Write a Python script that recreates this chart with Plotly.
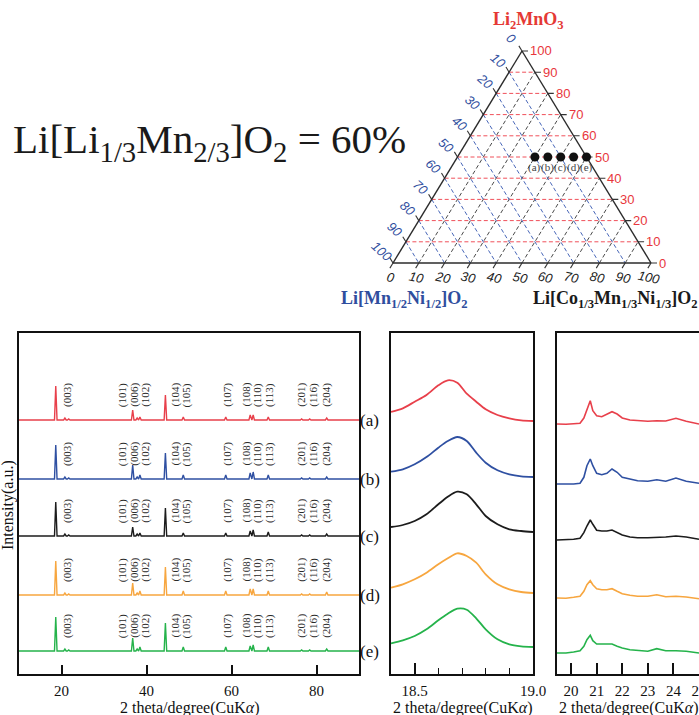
import plotly.graph_objects as go

W, H = 699, 715

SERIF = "Liberation Serif, Times New Roman, serif"
SANS = "Liberation Sans, Arial, sans-serif"

# ---------------------------------------------------------------- data
SAMPLES = ["(a)", "(b)", "(c)", "(d)", "(e)"]
COLORS = ["#e8404b", "#2f50a2", "#1c1c1c", "#f7a63f", "#25b34b"]

# full-range patterns: reflection positions (2theta / deg) and peak intensities (a.u.)
WIDE_PEAKS = [18.65, 20.8, 21.7, 36.75, 37.8, 38.45, 44.45, 48.65, 58.65, 64.4, 65.1, 68.65, 76.5, 78.4, 82.4]
WIDE_I_A = [34, 2, 1, 10, 2, 3, 25, 3, 3, 5, 5, 3, 1, 1, 2]
WIDE_I_B = [34, 2, 1, 14, 2, 4, 26, 4, 4, 6, 7, 4, 1, 1, 2]
WIDE_I_C = [34, 2, 1, 9, 2, 3, 28, 3, 3, 5, 6, 4, 1, 1, 2]
WIDE_I_D = [34, 2, 1, 12, 2, 4, 28, 4, 4, 6, 6, 4, 1, 1, 3]
WIDE_I_E = [34, 2, 1, 13, 2, 4, 28, 4, 4, 5, 6, 4, 1, 1, 2]
WIDE_OFFSET = [254, 195, 138, 79, 23]

HKL_LABELS = ["(003)", "(101)", "(006)", "(102)", "(104)", "(105)", "(107)",
              "(108)", "(110)", "(113)", "(201)", "(116)", "(204)"]

# (003) reflection detail
NARROW_2THETA = [18.40, 18.45, 18.50, 18.55, 18.60, 18.64, 18.68, 18.72, 18.76, 18.80, 18.85, 18.90, 18.95, 19.00]
NARROW_I_A = [9, 12.7, 19.3, 26, 35.7, 40.7, 38.3, 27.3, 19.3, 11.7, 6, 2.7, 0.7, 0]
NARROW_I_B = [5.3, 7.7, 12.7, 20, 29.3, 36, 40, 36, 24.3, 14.3, 6.7, 2.7, 0.7, 0]
NARROW_I_C = [5, 7, 11, 17.7, 27.7, 35.3, 40.3, 37.7, 27.7, 16, 7.7, 2.7, 1, 0]
NARROW_I_D = [5.3, 8.7, 13.7, 20.3, 28.7, 34.7, 39.7, 37, 30.3, 18.7, 8.7, 3.7, 1, 0]
NARROW_I_E = [3.7, 6.7, 11, 17.7, 26.7, 33.3, 38.3, 37.3, 28.7, 17.7, 7.7, 2.7, 0.7, 0]
NARROW_OFFSET = [253, 197, 142, 81, 27]

# superlattice region
SUPER_2THETA = [19.45, 19.8, 20.1, 20.35, 20.5, 20.62, 20.75, 20.85, 21.0, 21.2, 21.4,
                21.6, 21.8, 22.0, 22.3, 22.6, 23.0, 23.35, 23.7, 24.1, 24.5, 25.0]
SUPER_I_A = [0, -0.3, 0.3, 0.7, 6, 15, 23.3, 13.3, 8.3, 7.3, 10, 12.3, 10, 6, 4, 3.3, 2.7, 3.3, 3, 5.7, 2.7, 0]
SUPER_I_B = [0, -0.3, 0, 0.7, 6.7, 18.3, 25, 18.3, 10.7, 9.3, 10.7, 15, 11.7, 6.7, 5, 3.3, 2.7, 4.3, 2.7, 6, 2.7, 0.7]
SUPER_I_C = [0, 0, 0.7, 1.7, 7.3, 14, 20, 15.7, 9.7, 9, 9, 10, 7.3, 5, 3, 2.3, 2.3, 2.3, 3, 4, 3, 0.7]
SUPER_I_D = [0, -0.3, 0.7, 1.7, 6.7, 13.3, 17.3, 13.3, 9.3, 8.3, 8.3, 9.3, 6.7, 4.3, 2.7, 1.7, 1.7, 3.3, 1.3, 1.7, 1, -0.7]
SUPER_I_E = [0, 0, 1, 2.3, 6.7, 13.3, 17.7, 12.3, 9, 9, 9.3, 9, 6.7, 5, 3.3, 2.3, 1.7, 4.3, 2.3, 2.3, 1.7, 0]
SUPER_OFFSET = [250, 190, 134, 76, 21]

# ternary composition diagram (mol %)
TERNARY_TICKS = [0, 10, 20, 30, 40, 50, 60, 70, 80, 90, 100]
COMP_LI2MNO3 = [50, 50, 50, 50, 50]
COMP_NMC = [30, 35, 40, 45, 50]
COMP_MNNI = [20, 15, 10, 5, 0]

WIDE_I = [WIDE_I_A, WIDE_I_B, WIDE_I_C, WIDE_I_D, WIDE_I_E]
NARROW_I = [NARROW_I_A, NARROW_I_B, NARROW_I_C, NARROW_I_D, NARROW_I_E]
SUPER_I = [SUPER_I_A, SUPER_I_B, SUPER_I_C, SUPER_I_D, SUPER_I_E]

# ---------------------------------------------------------------- layout helpers
def fx(px):
    return px / W


def fy(py):
    return 1 - py / H


PANEL_TOP, PANEL_BOTTOM = 333, 674
Y_DOMAIN = [fy(PANEL_BOTTOM), fy(PANEL_TOP)]
Y_RANGE = [0, PANEL_BOTTOM - PANEL_TOP]
PEAK_HALF_BASE = 0.3
HKL_X = [21.3, 34.3, 37.0, 39.6, 46.6, 49.4, 58.9, 63.3, 66.0, 68.8, 76.3, 79.1, 82.2]


def paper_text(px, py, text, font, **kw):
    d = dict(x=fx(px), y=fy(py), xref="paper", yref="paper", text=text, showarrow=False,
             xanchor="center", yanchor="middle", font=font)
    d.update(kw)
    return d


fig = go.Figure()

# ---------------------------------------------------------------- full-range patterns
for name, col, inten, off in zip(SAMPLES, COLORS, WIDE_I, WIDE_OFFSET):
    xs, ys = [10], [off]
    for p, h in zip(WIDE_PEAKS, inten):
        xs += [p - PEAK_HALF_BASE, p, p + PEAK_HALF_BASE]
        ys += [off, off + h, off]
    xs.append(90)
    ys.append(off)
    fig.add_trace(go.Scatter(x=xs, y=ys, mode="lines", line=dict(color=col, width=1.4),
                             xaxis="x", yaxis="y", showlegend=False, hoverinfo="skip"))

# (003) detail
for col, inten, off in zip(COLORS, NARROW_I, NARROW_OFFSET):
    fig.add_trace(go.Scatter(x=NARROW_2THETA, y=[off + v for v in inten], mode="lines",
                             line=dict(color=col, width=1.8, shape="spline", smoothing=0.8),
                             xaxis="x2", yaxis="y2", showlegend=False, hoverinfo="skip"))

# superlattice detail
for col, inten, off in zip(COLORS, SUPER_I, SUPER_OFFSET):
    fig.add_trace(go.Scatter(x=SUPER_2THETA, y=[off + v for v in inten], mode="lines",
                             line=dict(color=col, width=1.6),
                             xaxis="x3", yaxis="y3", showlegend=False, hoverinfo="skip"))

# ---------------------------------------------------------------- ternary diagram
TRI_LEFT, TRI_RIGHT, TRI_BASE, TRI_APEX = 393, 651, 263, 51
SX = (TRI_RIGHT - TRI_LEFT) / 100.0
SY = (TRI_BASE - TRI_APEX) / 100.0
T_XR = [-30, 115]
T_YR = [-20, 120]


def txy(a, c):
    """Li2MnO3 fraction a and NMC fraction c -> plane coordinates."""
    return c + a / 2.0, a


def seg_trace(segs, color, width, dash):
    xs, ys = [], []
    for (x0, y0), (x1, y1) in segs:
        xs += [x0, x1, None]
        ys += [y0, y1, None]
    return go.Scatter(x=xs, y=ys, mode="lines", line=dict(color=color, width=width, dash=dash),
                      xaxis="x4", yaxis="y4", showlegend=False, hoverinfo="skip")


inner = TERNARY_TICKS[1:-1]
red_g = [(txy(v, 0), txy(v, 100 - v)) for v in inner]
blue_g = [(txy(100 - v, 0), txy(0, 100 - v)) for v in inner]
black_g = [(txy(0, v), txy(100 - v, v)) for v in inner]
fig.add_trace(seg_trace(black_g, "#4a4a4a", 1, "4px,2.5px"))
fig.add_trace(seg_trace(blue_g, "#4766b8", 1, "4px,2.5px"))
fig.add_trace(seg_trace(red_g, "#f0505a", 1, "4px,2.5px"))

TICK_PX = 6.0
ticks = []
for v in TERNARY_TICKS:
    x, y = txy(v, 100 - v)
    ticks.append(((x, y), (x + TICK_PX / SX, y)))
    x, y = txy(0, v)
    ticks.append(((x, y), (x - 0.52 * TICK_PX / SX, y - 0.855 * TICK_PX / SY)))
    x, y = txy(100 - v, 0)
    ticks.append(((x, y), (x - 0.52 * TICK_PX / SX, y + 0.855 * TICK_PX / SY)))
fig.add_trace(seg_trace(ticks, "#333333", 1.1, "solid"))

edges = [(txy(0, 0), txy(0, 100)), (txy(0, 100), txy(100, 0)), (txy(100, 0), txy(0, 0))]
fig.add_trace(seg_trace(edges, "#2b2b2b", 1.4, "solid"))

pts = [txy(a, c) for a, c in zip(COMP_LI2MNO3, COMP_NMC)]
fig.add_trace(go.Scatter(x=[p[0] for p in pts], y=[p[1] for p in pts], mode="markers",
                         marker=dict(color="#111111", size=9),
                         xaxis="x4", yaxis="y4", showlegend=False, hoverinfo="skip"))

annotations = []
for v in TERNARY_TICKS:
    x, y = txy(v, 100 - v)
    annotations.append(dict(x=x, y=y, xref="x4", yref="y4", text=str(v), showarrow=False,
                            xanchor="left", yanchor="middle", xshift=6,
                            font=dict(family=SANS, size=13, color="#e8363c")))
    x, y = txy(100 - v, 0)
    annotations.append(dict(x=x, y=y, xref="x4", yref="y4", text="<i>%d</i>" % v, showarrow=False,
                            xanchor="center", yanchor="middle", xshift=-11, yshift=12, textangle=42,
                            font=dict(family=SANS, size=13, color="#2f4e9e")))
    x, y = txy(0, v)
    annotations.append(dict(x=x, y=y, xref="x4", yref="y4", text="<i>%d</i>" % v, showarrow=False,
                            xanchor="center", yanchor="middle", xshift=-2, yshift=-14, textangle=12,
                            font=dict(family=SANS, size=13, color="#222222")))

for (x, y), name in zip(pts, SAMPLES):
    annotations.append(dict(x=x, y=y, xref="x4", yref="y4", text=name, showarrow=False,
                            xanchor="center", yanchor="middle", yshift=-10,
                            font=dict(family=SERIF, size=11, color="#444444")))

annotations += [
    paper_text(528, 20, "<b>Li<sub>2</sub>MnO<sub>3</sub></b>",
               dict(family=SERIF, size=18, color="#e53935")),
    paper_text(404, 299, "<b>Li[Mn<sub>1/2</sub>Ni<sub>1/2</sub>]O<sub>2</sub></b>",
               dict(family=SERIF, size=18, color="#2f4e9e")),
    paper_text(615, 299, "<b>Li[Co<sub>1/3</sub>Mn<sub>1/3</sub>Ni<sub>1/3</sub>]O<sub>2</sub></b>",
               dict(family=SERIF, size=18, color="#1a1a1a")),
    paper_text(11, 142, "Li[Li<sub>1/3</sub>Mn<sub>2/3</sub>]O<sub>2</sub> = 60%",
               dict(family=SERIF, size=41, color="#1a1a1a"), xanchor="left"),
]

# ---------------------------------------------------------------- panel labels
for name, off in zip(SAMPLES, WIDE_OFFSET):
    annotations.append(dict(x=1, y=off, xref="x domain", yref="y", text=name, showarrow=False,
                            xanchor="left", yanchor="middle", xshift=-1,
                            font=dict(family=SERIF, size=17, color="#111111")))
    for hx, lab in zip(HKL_X, HKL_LABELS):
        annotations.append(dict(x=hx, y=off + 25, xref="x", yref="y", text=lab, showarrow=False,
                                xanchor="center", yanchor="middle", textangle=-90,
                                font=dict(family=SERIF, size=11, color="#2a2a2a")))

XTITLE = "2 theta/degree(CuK<i>α</i>)"
for cx in [(19 + 359) / 2, (391 + 533) / 2, (557 + 699) / 2]:
    annotations.append(paper_text(cx, 707.5, XTITLE, dict(family=SERIF, size=16, color="#111111")))
annotations.append(paper_text(8, 505, "Intensity(a.u.)", dict(family=SERIF, size=16, color="#111111"),
                              textangle=-90))

# ---------------------------------------------------------------- axes
frame = dict(showline=True, linecolor="#111111", linewidth=1.5, showgrid=False, zeroline=False,
             automargin=False)
xtick = dict(ticks="inside", tickcolor="#111111", tickwidth=1.5, ticklabelstandoff=2,
             tickfont=dict(family=SERIF, size=15, color="#111111"))

fig.update_layout(
    template="none",
    width=W, height=H, autosize=False, margin=dict(l=0, r=0, t=0, b=0, pad=0, autoexpand=False),
    paper_bgcolor="white", plot_bgcolor="white",
    xaxis=dict(domain=[fx(19), fx(359)], range=[10, 90], tickvals=[20, 40, 60, 80], ticklen=9,
               mirror=True, anchor="y", **frame, **xtick),
    yaxis=dict(domain=Y_DOMAIN, range=Y_RANGE, showticklabels=False, ticks="", mirror=True,
               anchor="x", **frame),
    xaxis2=dict(domain=[fx(391), fx(533)], range=[18.4, 19.0], tickvals=[18.5, 19.0],
                ticktext=["18.5", "19.0"], ticklen=11, mirror=True, anchor="y2",
                minor=dict(dtick=0.1, tick0=18.4, ticks="inside", ticklen=6, tickcolor="#111111",
                           tickwidth=1.3),
                **frame, **xtick),
    yaxis2=dict(domain=Y_DOMAIN, range=Y_RANGE, showticklabels=False, ticks="", mirror=True,
                anchor="x2", **frame),
    xaxis3=dict(domain=[fx(557), 1.0], range=[19.45, 25.0], tickvals=[20, 21, 22, 23, 24, 25],
                ticklen=11, mirror=True, anchor="y3", ticklabeloverflow="allow", **frame, **xtick),
    yaxis3=dict(domain=Y_DOMAIN, range=Y_RANGE, showticklabels=False, ticks="", mirror=False,
                anchor="x3", **frame),
    xaxis4=dict(domain=[fx(TRI_LEFT + T_XR[0] * SX), fx(TRI_LEFT + T_XR[1] * SX)], range=T_XR,
                visible=False, anchor="y4", automargin=False),
    yaxis4=dict(domain=[fy(TRI_BASE - T_YR[0] * SY), fy(TRI_BASE - T_YR[1] * SY)], range=T_YR,
                visible=False, anchor="x4", automargin=False),
    annotations=annotations,
)

fig.write_html("out.html", config={"responsive": False})
